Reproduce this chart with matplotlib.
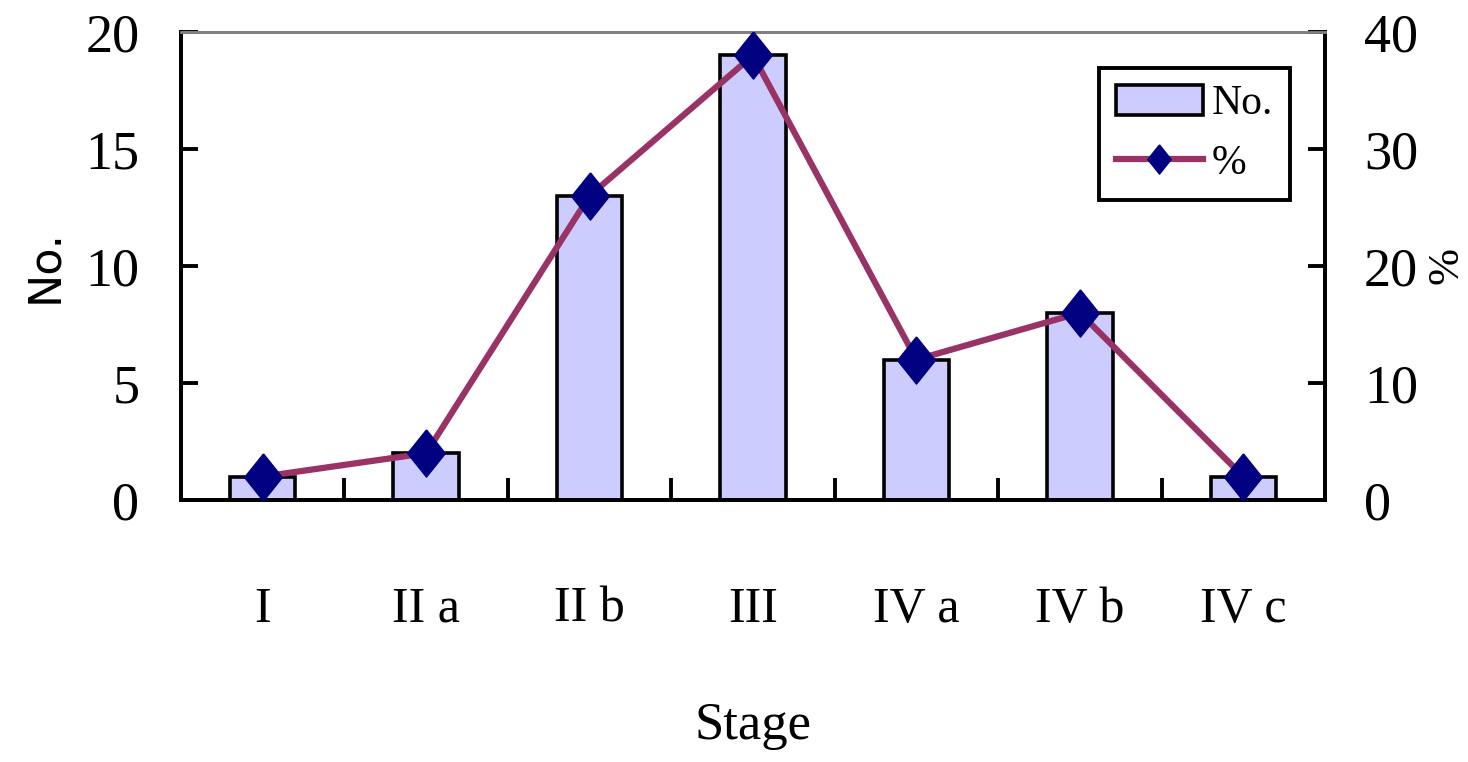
import matplotlib
matplotlib.use("Agg")
import matplotlib.pyplot as plt
from matplotlib.ticker import FixedLocator

stages = ["I", "II a", "II b", "III", "IV a", "IV b", "IV c"]
counts = [1, 2, 13, 19, 6, 8, 1]
percent = [2, 4, 26, 38, 12, 16, 2]
left_ticks = [0, 5, 10, 15, 20]
right_ticks = [0, 10, 20, 30, 40]

serif = "Liberation Serif"
bar_color = "#CCCCFF"
line_color = "#993366"
marker_color = "#000080"

fig = plt.figure(figsize=(14.68, 7.62), dpi=100)
ax = fig.add_axes([181 / 1468, 1 - 500 / 762, 1144 / 1468, 468 / 762])
ax2 = ax.twinx()

x = list(range(len(stages)))
bars = ax.bar(x, counts, width=0.40, color=bar_color, edgecolor="black",
              linewidth=2.6, label="No.", zorder=2)
diamond = [(0, 1), (0.8, 0), (0, -1), (-0.8, 0), (0, 1)]
line, = ax2.plot(x, percent, color=line_color, linewidth=4.5, marker=diamond,
                 markersize=34, markerfacecolor=marker_color,
                 markeredgecolor=marker_color, label="%", zorder=3)

ax.set_xlim(-0.5, len(stages) - 0.5)
ax.set_ylim(0, 20)
ax2.set_ylim(0, 40)

ax.set_yticks(left_ticks)
ax2.set_yticks(right_ticks)
ax.set_xticks(x)
ax.set_xticklabels(stages, fontfamily=serif, fontsize=36)
ax.xaxis.set_minor_locator(FixedLocator([i + 0.5 for i in range(len(stages) - 1)]))

for a in (ax, ax2):
    for s in a.spines.values():
        s.set_linewidth(2.8)
        s.set_color("black")
    a.spines["top"].set_color("#808080")
    a.spines["top"].set_linewidth(2.0)

ax.tick_params(axis="y", direction="in", length=12, width=2.8, pad=30,
               labelsize=39)
ax2.tick_params(axis="y", direction="in", length=12, width=2.8, pad=28,
                labelsize=39)
ax.tick_params(axis="x", which="major", length=0, pad=62)
ax.tick_params(axis="x", which="minor", direction="in", length=16, width=2.8)
for lab in ax.get_yticklabels() + ax2.get_yticklabels():
    lab.set_fontfamily(serif)

ax.set_xlabel("Stage", fontfamily=serif, fontsize=38, labelpad=50)
ax.set_ylabel("No.", fontfamily="DejaVu Sans", fontsize=32, labelpad=14)
ax2.set_ylabel("%", fontfamily=serif, fontsize=32, labelpad=6, rotation=90)

leg = ax2.legend([bars, line], ["No.", "%"], loc="upper right",
                 bbox_to_anchor=(0.969, 0.923), borderaxespad=0,
                 prop={"family": serif, "size": 30}, frameon=True,
                 fancybox=False, edgecolor="black", handlelength=2.1,
                 handleheight=0.75, handletextpad=0.2, borderpad=0.4,
                 labelspacing=0.5, markerscale=0.62)
leg.get_frame().set_linewidth(2.8)
leg.get_frame().set_alpha(1)

fig.savefig("out.png", dpi=100)
